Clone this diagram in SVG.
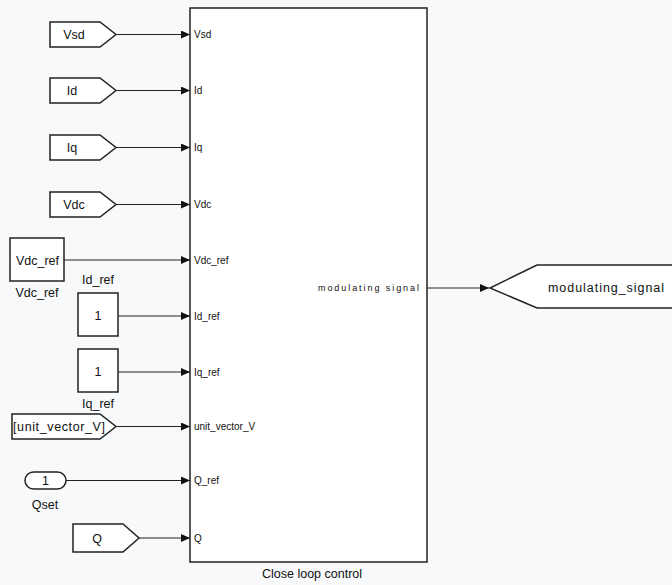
<svg xmlns="http://www.w3.org/2000/svg" width="672" height="585" viewBox="0 0 672 585">
<defs>
<marker id="ah" markerWidth="10" markerHeight="8" refX="9" refY="4" orient="auto" markerUnits="userSpaceOnUse">
<path d="M0,0 L9,4 L0,8 Z" fill="#111"/>
</marker>
</defs>
<style>
.blk{fill:#fff;stroke:#222;stroke-width:1.5}
.ln{stroke:#222;stroke-width:1;fill:none;marker-end:url(#ah)}
.t{font-family:"Liberation Sans",Arial,sans-serif;font-size:12.5px;fill:#111}
.p{font-family:"Liberation Sans",Arial,sans-serif;font-size:10px;fill:#111}
</style>
<rect width="672" height="585" fill="#f7f9fb"/>
<g id="close_loop_control">
<rect class="blk" x="190" y="8" width="237" height="554"/>
<g class="p">
<text x="194" y="38">Vsd</text>
<text x="194" y="94">Id</text>
<text x="194" y="151">Iq</text>
<text x="194" y="208">Vdc</text>
<text x="194" y="264">Vdc_ref</text>
<text x="194" y="320">Id_ref</text>
<text x="194" y="376">Iq_ref</text>
<text x="194" y="430">unit_vector_V</text>
<text x="194" y="484">Q_ref</text>
<text x="194" y="542">Q</text>
<text x="318" y="291" font-size="9" textLength="101" lengthAdjust="spacing">modulating signal</text>
</g>
<text class="t" x="312" y="578" text-anchor="middle" font-size="13">Close loop control</text>
</g>
<g id="from_Vsd"><path class="blk" d="M50,22 H100 L116,34.5 L100,47 H50 Z"/><text class="t" x="74" y="39" text-anchor="middle">Vsd</text></g>
<g id="from_Id"><path class="blk" d="M50,78 H100 L116,90.5 L100,103 H50 Z"/><text class="t" x="72" y="95" text-anchor="middle">Id</text></g>
<g id="from_Iq"><path class="blk" d="M50,135 H100 L116,147.5 L100,160 H50 Z"/><text class="t" x="72" y="152" text-anchor="middle">Iq</text></g>
<g id="from_Vdc"><path class="blk" d="M50,192 H100 L116,204.5 L100,217 H50 Z"/><text class="t" x="74" y="209" text-anchor="middle">Vdc</text></g>
<g id="Vdc_ref"><rect class="blk" x="10" y="238" width="54" height="43"/><text class="t" x="37.5" y="265" text-anchor="middle" font-size="13.5">Vdc_ref</text><text class="t" x="37" y="297" text-anchor="middle">Vdc_ref</text></g>
<g id="Id_ref"><rect class="blk" x="78" y="293" width="40" height="43"/><text class="t" x="98" y="320" text-anchor="middle">1</text><text class="t" x="98" y="284" text-anchor="middle">Id_ref</text></g>
<g id="Iq_ref"><rect class="blk" x="78" y="349" width="40" height="43"/><text class="t" x="98" y="376" text-anchor="middle">1</text><text class="t" x="98" y="408" text-anchor="middle">Iq_ref</text></g>
<g id="from_unit_vector_V"><path class="blk" d="M12,414 H100 L116,426.5 L100,439 H12 Z"/><text class="t" x="13" y="431" textLength="92" lengthAdjust="spacing">[unit_vector_V]</text></g>
<g id="Qset"><rect class="blk" x="25" y="472" width="41" height="17" rx="8.5"/><text class="t" x="45.5" y="485" text-anchor="middle">1</text><text class="t" x="45" y="509" text-anchor="middle">Qset</text></g>
<g id="from_Q"><path class="blk" d="M73,524 H123 L139,538 L123,552 H73 Z"/><text class="t" x="97" y="543" text-anchor="middle">Q</text></g>
<g id="goto_modulating_signal"><path class="blk" d="M680,265 H537 L490,288 L537,308 H680"/><text class="t" x="548" y="292" font-size="13" textLength="116" lengthAdjust="spacing">modulating_signal</text></g>
<g id="connectors">
<line class="ln" x1="116" y1="34.5" x2="190" y2="34.5"/>
<line class="ln" x1="116" y1="90.5" x2="190" y2="90.5"/>
<line class="ln" x1="116" y1="147.5" x2="190" y2="147.5"/>
<line class="ln" x1="116" y1="204.5" x2="190" y2="204.5"/>
<line class="ln" x1="64" y1="260" x2="190" y2="260"/>
<line class="ln" x1="118" y1="316" x2="190" y2="316"/>
<line class="ln" x1="118" y1="372" x2="190" y2="372"/>
<line class="ln" x1="116" y1="426.5" x2="190" y2="426.5"/>
<line class="ln" x1="66" y1="480.5" x2="190" y2="480.5"/>
<line class="ln" x1="139" y1="538" x2="190" y2="538"/>
<line class="ln" x1="427" y1="288" x2="489" y2="288"/>
</g>
</svg>
